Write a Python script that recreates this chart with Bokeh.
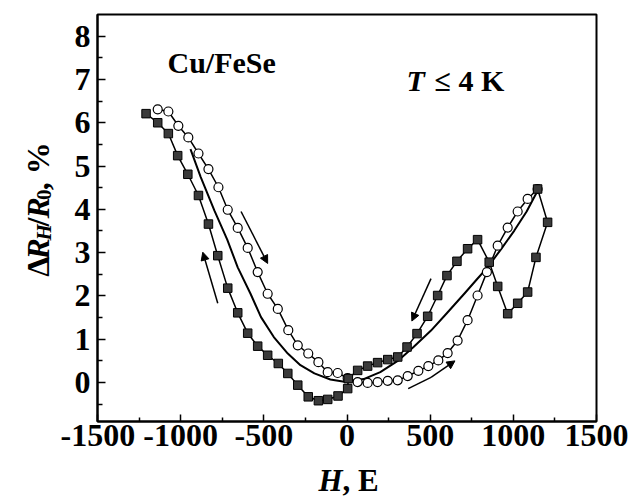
from math import pi
from bokeh.plotting import figure
from bokeh.layouts import column, row
from bokeh.models import FixedTicker, Label, Arrow, NormalHead, Range1d
from bokeh.core.properties import value
from bokeh.embed import file_html
from bokeh.resources import INLINE

# ---- data ----
sq_h = [1146, 1206, 1136, 1086, 1026, 966, 906, 855, 785, 725, 661, 601, 545, 485,
        421, 361, 305, 245, 184, 124, 64, 8, 4, -54, -116, -172, -233, -296, -356,
        -413, -477, -537, -597, -657, -717, -777, -833, -893, -957, -1018, -1074,
        -1138, -1208]
sq_r = [4.47, 3.70, 2.89, 2.09, 1.83, 1.59, 2.22, 2.78, 3.30, 3.09, 2.80, 2.47, 2.01,
        1.53, 1.13, 0.82, 0.59, 0.53, 0.46, 0.38, 0.28, 0.09, -0.14, -0.31, -0.39,
        -0.42, -0.33, -0.06, 0.21, 0.44, 0.63, 0.84, 1.14, 1.61, 2.18, 2.93, 3.66,
        4.32, 4.81, 5.24, 5.75, 6.00, 6.21]

circ_h = [-1138, -1074, -1014, -954, -893, -833, -773, -717, -657, -597, -537, -477,
          -416, -353, -296, -233, -172, -116, -56, 4, 64, 124, 184, 245, 305, 365,
          429, 489, 549, 605, 665, 725, 785, 841, 906, 966, 1026, 1086, 1146]
circ_r = [6.31, 6.26, 5.93, 5.66, 5.29, 4.93, 4.51, 3.99, 3.57, 3.11, 2.55, 2.05,
          1.70, 1.21, 0.86, 0.67, 0.47, 0.24, 0.22, 0.10, 0.01, -0.01, 0.01, 0.04,
          0.05, 0.15, 0.27, 0.38, 0.51, 0.68, 0.97, 1.44, 2.01, 2.55, 3.16, 3.58,
          3.95, 4.24, 4.47]

fit_h = [-941, -880, -797, -720, -657, -580, -517, -440, -356, -280, -196, -100, -16,
         100, 200, 305, 400, 505, 600, 705, 780, 845, 930, 1006, 1080, 1146]
fit_r = [5.39, 4.75, 3.97, 3.30, 2.66, 2.05, 1.51, 1.05, 0.67, 0.40, 0.21, 0.07, 0.02,
         0.08, 0.24, 0.50, 0.82, 1.20, 1.60, 2.05, 2.38, 2.66, 3.10, 3.51, 3.95, 4.43]

# arrows (start -> end)
arr_x0 = [-637, -777, 505, 505]
arr_y0 = [3.95, 1.83, 2.40, 0.12]
arr_x1 = [-477, -867, 390, 649]
arr_y1 = [2.75, 3.01, 1.42, 0.50]
tail_h = [368, 505]
tail_r = [-0.14, 0.12]

x_ticks = [-1500, -1000, -500, 0, 500, 1000, 1500]
x_minor = [-1250, -750, -250, 250, 750, 1250]
x_labels = ["-1500", "-1000", "-500", "0", "500", "1000", "1500"]
y_ticks = [0, 1, 2, 3, 4, 5, 6, 7, 8]
y_minor = [-0.5, 0.5, 1.5, 2.5, 3.5, 4.5, 5.5, 6.5, 7.5]
y_labels = ["0", "1", "2", "3", "4", "5", "6", "7", "8"]

FONT = "Liberation Serif"
W, H = 634, 497
WL = 60            # width of the y-label strip
HM = 461           # height of the main plot
X0, X1, Y0, Y1 = -1500, 1500, -0.9, 8.5
FL, FR, FT, FB = 97, 596, 14, 421   # frame edges in page pixels


def cx(px):
    return X0 + (px - FL) / (FR - FL) * (X1 - X0)


def cy(py):
    return Y1 - (py - FT) / (FB - FT) * (Y1 - Y0)


p = figure(width=W - WL, height=HM, output_backend="svg", toolbar_location=None,
           title=None, x_range=Range1d(X0, X1), y_range=Range1d(Y0, Y1),
           min_border_left=FL - WL, min_border_right=W - FR, min_border_top=FT,
           min_border_bottom=HM - FB)
p.grid.visible = False
p.outline_line_color = "black"
p.outline_line_width = 2
p.background_fill_color = "white"
p.border_fill_color = "white"

for ax in (p.xaxis, p.yaxis):
    ax.axis_line_width = 2
    ax.major_tick_line_width = 1.5
    ax.minor_tick_line_width = 1.5
    ax.major_tick_out = 0
    ax.minor_tick_out = 0
    ax.major_label_text_font = FONT
    ax.major_label_text_font_style = "bold"
    ax.major_label_text_font_size = "32px"
    ax.major_label_text_color = "black"
    ax.axis_label = None

p.xaxis.ticker = FixedTicker(ticks=x_ticks, minor_ticks=x_minor)
p.yaxis.ticker = FixedTicker(ticks=y_ticks, minor_ticks=y_minor)
p.xaxis.major_label_overrides = dict(zip(x_ticks, x_labels))
p.yaxis.major_label_overrides = dict(zip(y_ticks, y_labels))
p.xaxis.major_tick_in = 7
p.xaxis.minor_tick_in = 4
p.yaxis.major_tick_in = 8
p.yaxis.minor_tick_in = 5
p.xaxis.major_label_standoff = 3
p.yaxis.major_label_standoff = 7

# fit curve
p.line(fit_h, fit_r, line_color="black", line_width=2, line_join="round")
# open circles
p.line(circ_h, circ_r, line_color="black", line_width=1.5)
p.scatter(circ_h, circ_r, marker="circle", size=9, fill_color="white",
          line_color="black", line_width=1.2)
# filled squares
p.line(sq_h, sq_r, line_color="black", line_width=1.5)
p.scatter(sq_h, sq_r, marker="square", size=8.5, fill_color="#3a3a3a",
          line_color="black", line_width=1)

# arrows
p.line(tail_h, tail_r, line_color="black", line_width=1.5)
for a, b, c, d in zip(arr_x0, arr_y0, arr_x1, arr_y1):
    p.add_layout(Arrow(end=NormalHead(size=8, fill_color="black", line_color="black",
                                      line_width=1),
                       x_start=a, y_start=b, x_end=c, y_end=d,
                       line_color="black", line_width=1.5))


def lab(text, px, py, size="30px", style="bold"):
    p.add_layout(Label(x=cx(px), y=cy(py), text=text, text_font=FONT,
                       text_font_style=style, text_font_size=size,
                       text_color="black", text_align="left",
                       text_baseline="alphabetic"))


# in-plot annotations
lab("Cu/FeSe", 167, 62)
lab("T", 406, 80, style="bold italic")
lab("\u2264 4 K", 434, 80)


def strip(width, height, top):
    s = figure(width=width, height=height, output_backend="svg",
               toolbar_location=None, title=None,
               x_range=Range1d(0, width), y_range=Range1d(top + height, top),
               x_axis_location=None, y_axis_location=None, min_border=0)
    s.grid.visible = False
    s.outline_line_color = None
    s.background_fill_color = "white"
    s.border_fill_color = "white"
    return s


def put(s, text, px, py, size="32px", style="bold", angle=0.0, baseline="alphabetic"):
    s.text(x=[px], y=[py], text=[text], angle=angle, text_font=value(FONT),
           text_font_style=style, text_font_size=size, text_color="black",
           text_align="left", text_baseline=baseline)


# y axis label strip (rotated text)
ylab = strip(WL, HM, 0)
A = pi / 2
put(ylab, "\u0394", 37, 297, angle=A)
put(ylab, "R", 37, 277.5, style="bold italic", angle=A)
put(ylab, "H", 43, 256, size="21px", style="bold italic", angle=A)
put(ylab, "/", 37, 240, angle=A)
put(ylab, "R", 37, 231, style="bold italic", angle=A)
put(ylab, "0", 43, 210, size="21px", angle=A)
put(ylab, ", %", 37, 199, angle=A)

# x axis label strip (text anchored by its top edge)
xlab = strip(W, H - HM, HM)
put(xlab, "H", 318, HM + 1, size="31px", style="bold italic", baseline="top")
put(xlab, ", E", 342, HM + 1, size="31px", baseline="top")

layout = column(row(ylab, p, spacing=0), xlab, spacing=0)
open("out.html", "w").write(file_html(layout, INLINE))
